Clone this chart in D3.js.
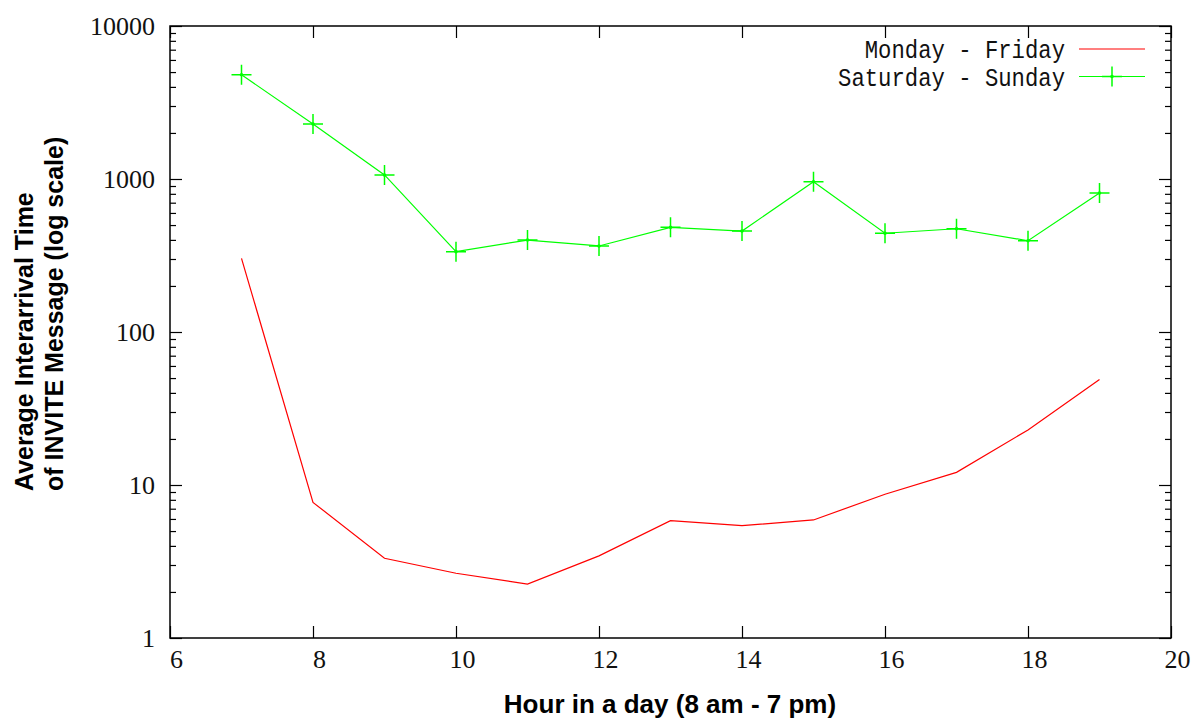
<!DOCTYPE html>
<html>
<head>
<meta charset="utf-8">
<script src="https://cdn.jsdelivr.net/npm/d3@7"></script>
<style>
  body { margin: 0; background: #fff; }
  svg { display: block; }
</style>
</head>
<body>
<svg id="chart" width="1193" height="720"></svg>
<script>
// hour of the day
var hours = [7, 8, 9, 10, 11, 12, 13, 14, 15, 16, 17, 18, 19];
// average interarrival time of INVITE, weekdays
var weekday = [303, 7.7, 3.32, 2.65, 2.25, 3.44, 5.85, 5.42, 5.91, 8.7, 12.1, 22.9, 49];
// weekends
var weekend = [4800, 2290, 1063, 335, 399, 365, 483, 457, 960, 442, 473, 395, 810];

var seriesNames = ["Monday - Friday", "Saturday - Sunday"];
var seriesColors = ["#ff0000", "#00ff00"];

var xTicks = [6, 8, 10, 12, 14, 16, 18, 20];
var yTicks = [1, 10, 100, 1000, 10000];

var dims = {
  width: 1193,
  height: 720,
  margin: { top: 26, right: 22, bottom: 82, left: 170 }
};

var svg = d3.select("#chart");

var xScale = d3.scaleLinear()
  .domain([6, 20])
  .range([dims.margin.left, dims.width - dims.margin.right]);
var yScale = d3.scaleLog()
  .domain([1, 10000])
  .range([dims.height - dims.margin.bottom, dims.margin.top]);

var minorTicks = [];
for (var p = 1; p < 10000; p *= 10) {
  for (var k = 2; k <= 9; k++) minorTicks.push(p * k);
}

var bottomY = dims.height - dims.margin.bottom;
var rightX = dims.width - dims.margin.right;

function styleAxis(g) {
  g.select(".domain").remove();
  g.selectAll("line").attr("stroke", "#000").attr("stroke-width", 1.2);
  g.selectAll("text")
    .attr("font-family", "'Liberation Serif', 'DejaVu Serif', serif")
    .attr("font-size", 26)
    .attr("fill", "#111");
}

// y axis, left
svg.append("g")
  .attr("transform", `translate(${dims.margin.left},0)`)
  .call(d3.axisLeft(yScale).tickValues(yTicks).tickFormat(d3.format("d")).tickSize(-12).tickPadding(15))
  .call(styleAxis);
svg.append("g")
  .attr("transform", `translate(${dims.margin.left},0)`)
  .call(d3.axisLeft(yScale).tickValues(minorTicks).tickFormat("").tickSize(-6))
  .call(styleAxis);
// y axis, right
svg.append("g")
  .attr("transform", `translate(${rightX},0)`)
  .call(d3.axisRight(yScale).tickValues(yTicks).tickFormat("").tickSize(-12))
  .call(styleAxis);
svg.append("g")
  .attr("transform", `translate(${rightX},0)`)
  .call(d3.axisRight(yScale).tickValues(minorTicks).tickFormat("").tickSize(-6))
  .call(styleAxis);

// x axis, bottom and top
svg.append("g")
  .attr("transform", `translate(0,${bottomY})`)
  .call(d3.axisBottom(xScale).tickValues(xTicks).tickSize(-12).tickPadding(12))
  .call(styleAxis)
  .selectAll("text").attr("dx", 6);
svg.append("g")
  .attr("transform", `translate(0,${dims.margin.top})`)
  .call(d3.axisTop(xScale).tickValues(xTicks).tickFormat("").tickSize(-12))
  .call(styleAxis);

// frame
svg.append("rect")
  .attr("x", dims.margin.left)
  .attr("y", dims.margin.top)
  .attr("width", rightX - dims.margin.left)
  .attr("height", bottomY - dims.margin.top)
  .attr("fill", "none")
  .attr("stroke", "#000")
  .attr("stroke-width", 1.5);

var line = d3.line()
  .x(function(d) { return xScale(d.h); })
  .y(function(d) { return yScale(d.v); });

var wdData = hours.map(function(h, i) { return { h: h, v: weekday[i] }; });
var weData = hours.map(function(h, i) { return { h: h, v: weekend[i] }; });

svg.append("path")
  .datum(wdData)
  .attr("d", line)
  .attr("fill", "none")
  .attr("stroke", seriesColors[0])
  .attr("stroke-width", 1.2);

svg.append("path")
  .datum(weData)
  .attr("d", line)
  .attr("fill", "none")
  .attr("stroke", seriesColors[1])
  .attr("stroke-width", 1.2);

function cross(sel, size) {
  sel.append("path")
    .attr("d", `M${-size},0H${size}M0,${-size}V${size}`)
    .attr("stroke", seriesColors[1])
    .attr("stroke-width", 1.5)
    .attr("fill", "none");
  sel.append("circle")
    .attr("r", 1.8)
    .attr("fill", seriesColors[1]);
}

svg.selectAll(".pt")
  .data(weData)
  .enter()
  .append("g")
  .attr("class", "pt")
  .attr("transform", function(d) { return `translate(${xScale(d.h)},${yScale(d.v)})`; })
  .call(cross, 10);

// legend
var legend = svg.append("g");
seriesNames.forEach(function(name, i) {
  var ly = 49 + i * 27.5;
  legend.append("text")
    .attr("x", 1065)
    .attr("y", ly + 9)
    .attr("text-anchor", "end")
    .attr("font-family", "'Liberation Mono', 'DejaVu Sans Mono', monospace")
    .attr("font-size", 25)
    .attr("textLength", name.length * 13.35)
    .attr("lengthAdjust", "spacingAndGlyphs")
    .attr("fill", "#111")
    .text(name);
  legend.append("line")
    .attr("x1", 1079).attr("x2", 1145)
    .attr("y1", ly).attr("y2", ly)
    .attr("stroke", seriesColors[i])
    .attr("stroke-width", 1.2);
  if (i == 1) {
    legend.append("g")
      .attr("transform", `translate(1112,${ly})`)
      .call(cross, 10);
  }
});

// axis titles
svg.append("text")
  .attr("x", 670)
  .attr("y", 713)
  .attr("text-anchor", "middle")
  .attr("font-family", "'Liberation Sans', Arial, sans-serif")
  .attr("font-weight", "bold")
  .attr("font-size", 26)
  .attr("fill", "#000")
  .text("Hour in a day (8 am - 7 pm)");

var ylab = svg.append("text")
  .attr("transform", "translate(33,491) rotate(-90)")
  .attr("text-anchor", "start")
  .attr("font-family", "'Liberation Sans', Arial, sans-serif")
  .attr("font-weight", "bold")
  .attr("font-size", 25)
  .attr("fill", "#000");
ylab.append("tspan").attr("x", 0).attr("y", 0).text("Average Interarrival Time");
ylab.append("tspan").attr("x", 0).attr("y", 30).text("of INVITE Message (log scale)");
</script>
</body>
</html>
